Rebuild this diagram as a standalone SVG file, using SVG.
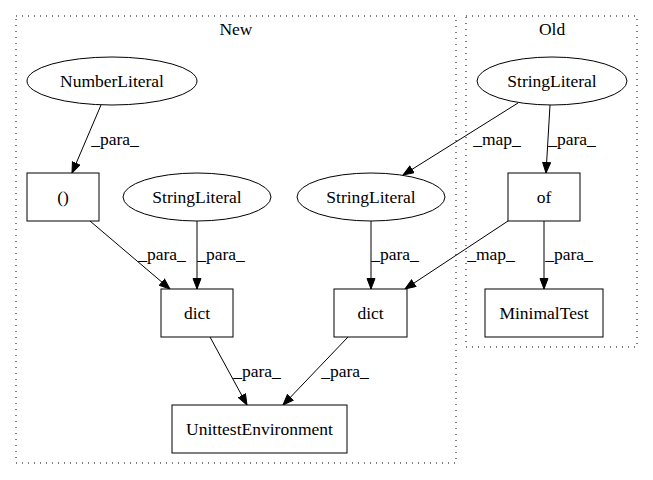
<svg xmlns="http://www.w3.org/2000/svg" width="653" height="480" viewBox="0 0 653 480">
<style>
text{font-family:"Liberation Serif","Times New Roman",serif;font-size:17.5px;fill:#000}
.n{fill:#fff;stroke:#000;stroke-width:1}
.c{fill:none;stroke:#000;stroke-width:1;stroke-dasharray:1,5}
.e{fill:none;stroke:#000;stroke-width:1;marker-end:url(#a)}
</style>
<defs>
<marker id="a" markerUnits="userSpaceOnUse" markerWidth="12" markerHeight="10" refX="11" refY="4.5" orient="auto">
<path d="M0.5,0.5 L11,4.5 L0.5,8.5 z" fill="#000" stroke="#000" stroke-width="1"/>
</marker>
</defs>
<rect width="653" height="480" fill="#fff"/>
<g id="cluster_new">
<rect class="c" x="16" y="16" width="440" height="447"/>
<text x="236" y="35" text-anchor="middle">New</text>
</g>
<g id="cluster_old">
<rect class="c" x="466" y="16" width="171" height="331"/>
<text x="552" y="35" text-anchor="middle">Old</text>
</g>
<g id="connectors">
<line class="e" x1="101" y1="105" x2="72" y2="173"/>
<text x="115" y="145" text-anchor="middle">_para_</text>
<line class="e" x1="90" y1="221" x2="170" y2="289"/>
<text x="162" y="260" text-anchor="middle">_para_</text>
<line class="e" x1="197" y1="221" x2="197" y2="289"/>
<text x="221" y="260" text-anchor="middle">_para_</text>
<line class="e" x1="371" y1="221" x2="371" y2="289"/>
<text x="395" y="260" text-anchor="middle">_para_</text>
<line class="e" x1="508" y1="221" x2="405" y2="289"/>
<text x="491" y="260" text-anchor="middle">_map_</text>
<line class="e" x1="544" y1="221" x2="544" y2="289"/>
<text x="569" y="260" text-anchor="middle">_para_</text>
<line class="e" x1="518" y1="103" x2="403" y2="175"/>
<text x="497" y="145" text-anchor="middle">_map_</text>
<line class="e" x1="550" y1="105" x2="546" y2="173"/>
<text x="572" y="145" text-anchor="middle">_para_</text>
<line class="e" x1="210" y1="337" x2="247" y2="405"/>
<text x="257" y="377" text-anchor="middle">_para_</text>
<line class="e" x1="348" y1="337" x2="283" y2="405"/>
<text x="345" y="377" text-anchor="middle">_para_</text>
</g>
<g id="NumberLiteral">
<ellipse class="n" cx="112" cy="81" rx="85" ry="24"/>
<text x="112" y="87" text-anchor="middle">NumberLiteral</text>
</g>
<g id="paren">
<rect class="n" x="27" y="173" width="72" height="48"/>
<text x="63" y="203" text-anchor="middle">()</text>
</g>
<g id="StringLiteral_new1">
<ellipse class="n" cx="197" cy="197" rx="74" ry="24"/>
<text x="197" y="203" text-anchor="middle">StringLiteral</text>
</g>
<g id="StringLiteral_new2">
<ellipse class="n" cx="371" cy="197" rx="74" ry="24"/>
<text x="371" y="203" text-anchor="middle">StringLiteral</text>
</g>
<g id="StringLiteral_old">
<ellipse class="n" cx="552" cy="81" rx="75" ry="24"/>
<text x="552" y="87" text-anchor="middle">StringLiteral</text>
</g>
<g id="of">
<rect class="n" x="508" y="173" width="72" height="48"/>
<text x="544" y="203" text-anchor="middle">of</text>
</g>
<g id="dict1">
<rect class="n" x="161" y="289" width="72" height="48"/>
<text x="197" y="319" text-anchor="middle">dict</text>
</g>
<g id="dict2">
<rect class="n" x="334" y="289" width="73" height="48"/>
<text x="370.5" y="319" text-anchor="middle">dict</text>
</g>
<g id="MinimalTest">
<rect class="n" x="485" y="289" width="118" height="48"/>
<text x="544" y="319" text-anchor="middle">MinimalTest</text>
</g>
<g id="UnittestEnvironment">
<rect class="n" x="172" y="405" width="175" height="48"/>
<text x="259.5" y="435" text-anchor="middle">UnittestEnvironment</text>
</g>
</svg>
